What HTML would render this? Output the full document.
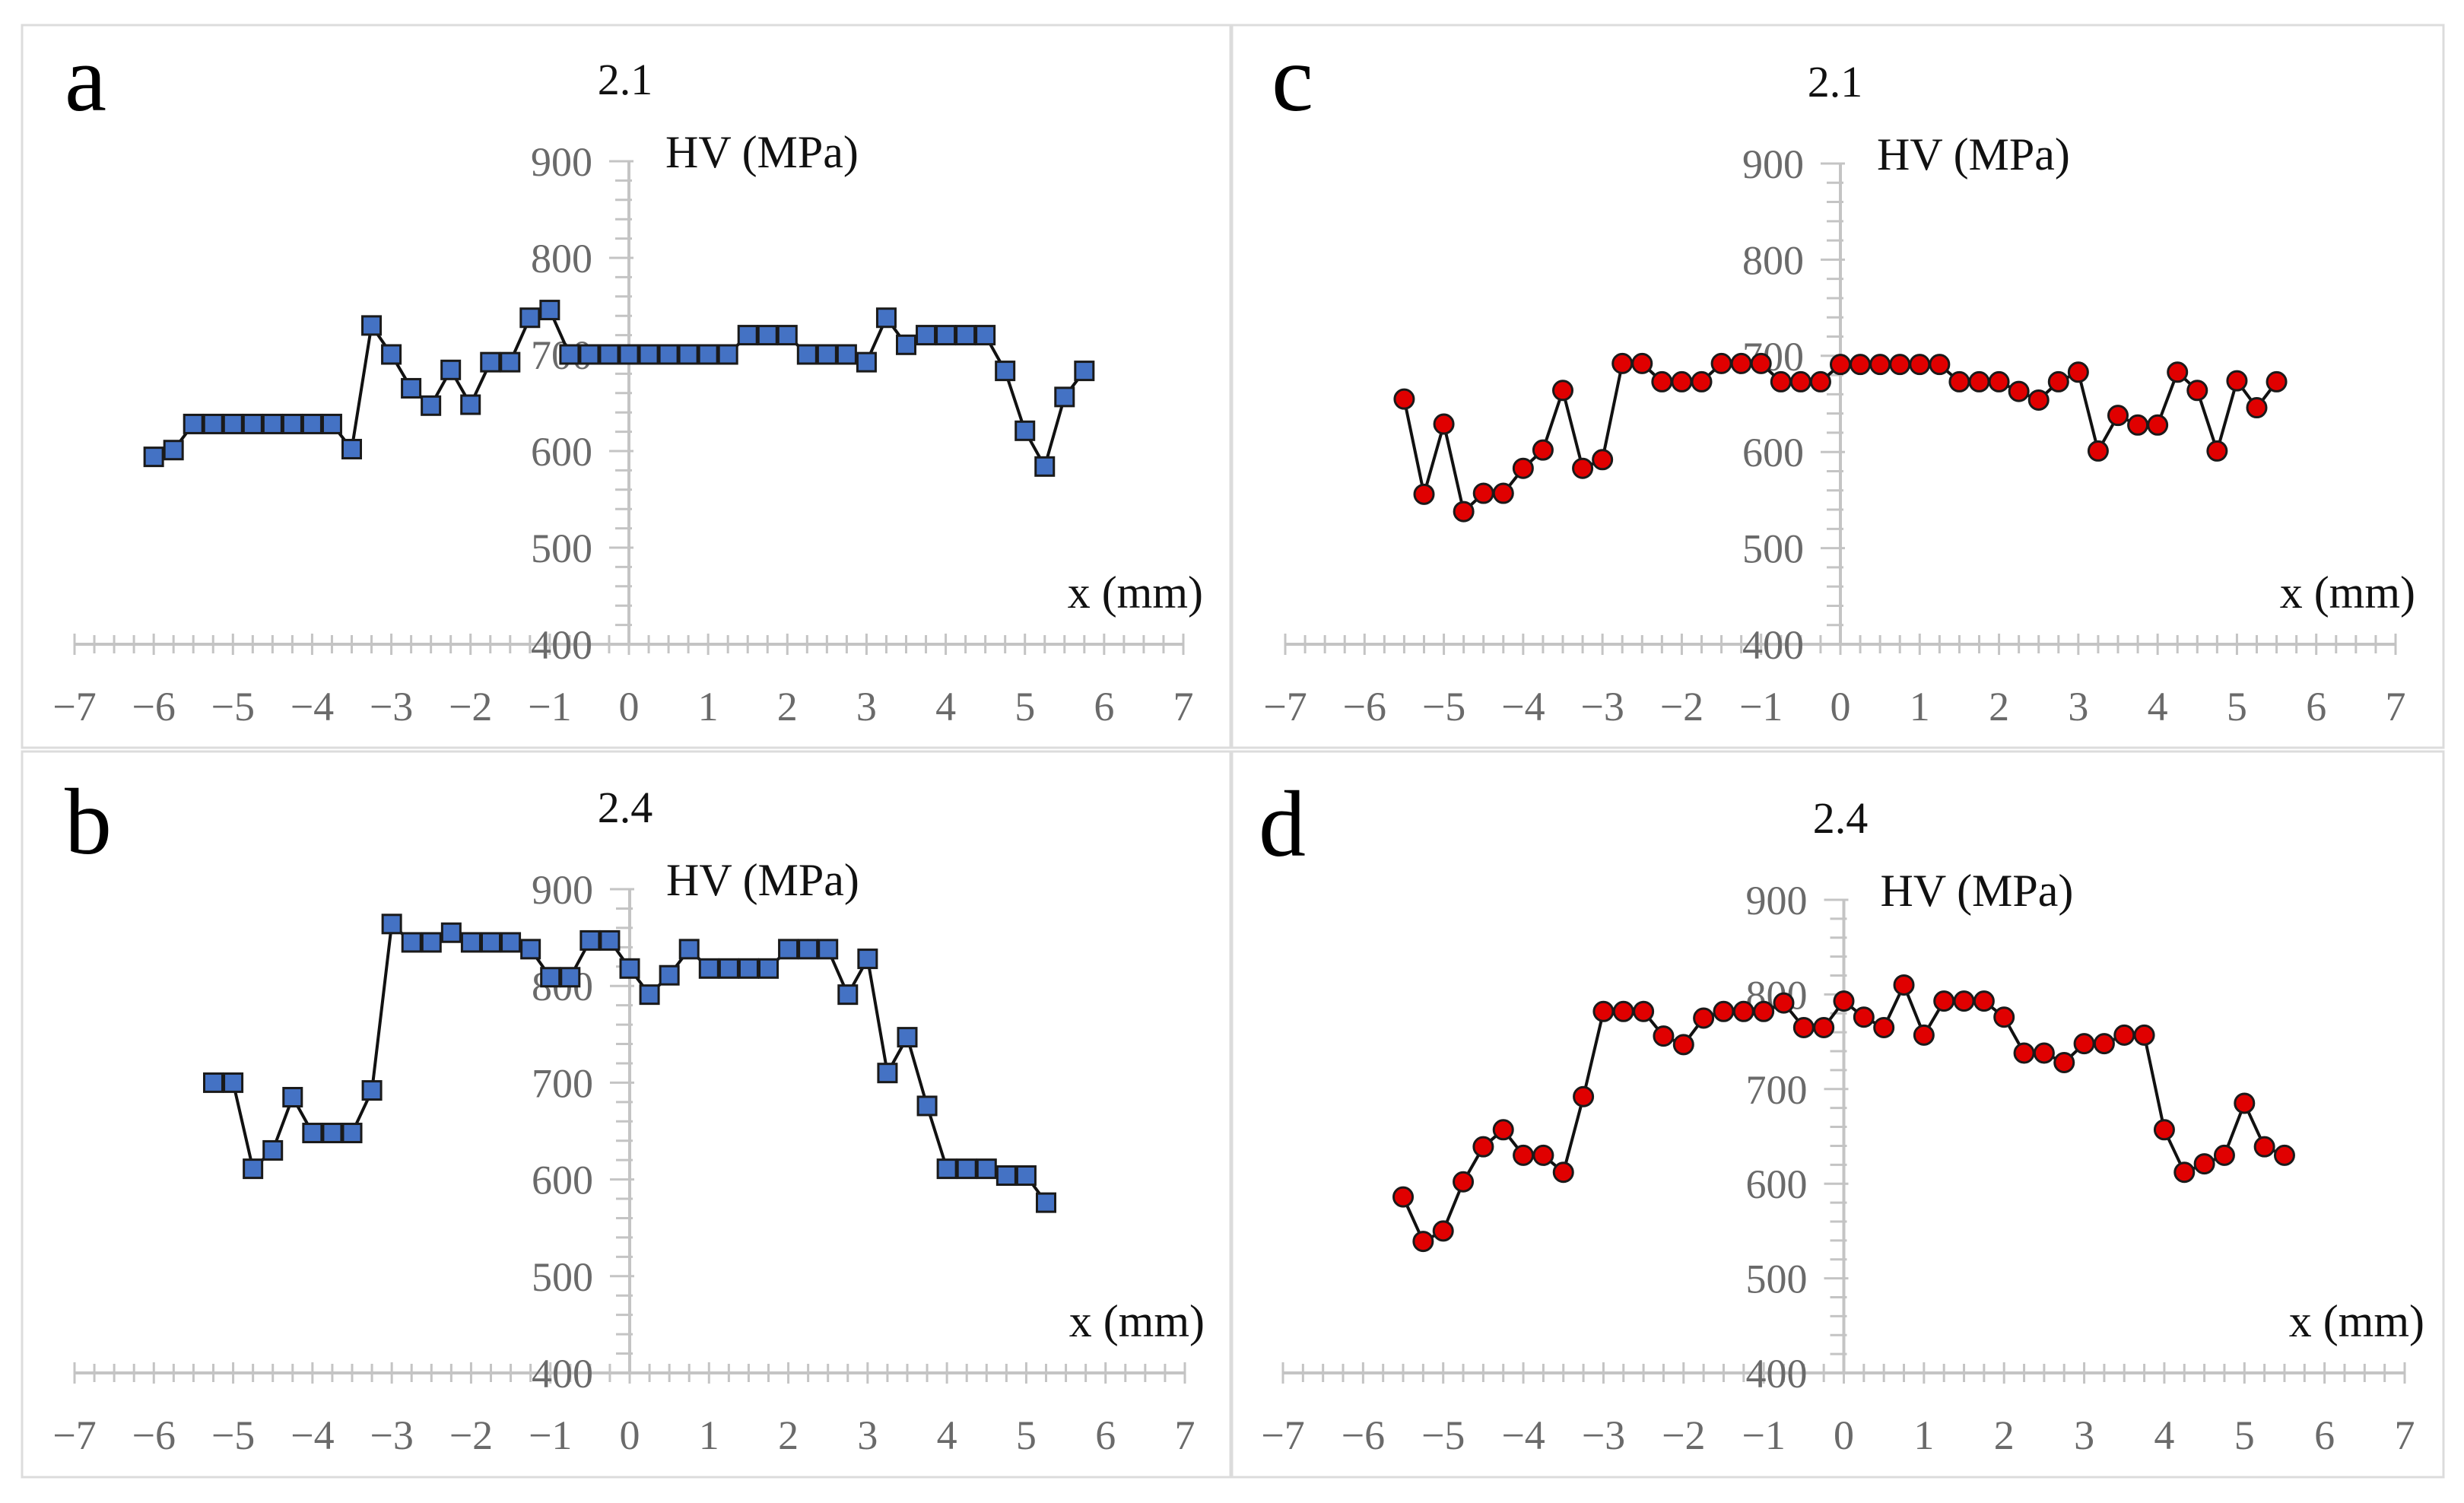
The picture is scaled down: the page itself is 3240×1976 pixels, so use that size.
<!DOCTYPE html>
<html><head><meta charset="utf-8">
<style>
html,body{margin:0;padding:0;background:#fff;}
svg{display:block;}
text{font-family:"Liberation Serif",serif;}
</style></head>
<body>
<svg id="fig" width="3240" height="1976" viewBox="0 0 3240 1976" xmlns="http://www.w3.org/2000/svg">
<rect x="0" y="0" width="3240" height="1976" fill="#fff"/>
<rect x="29" y="33" width="1589" height="950" fill="none" stroke="#dcdcdc" stroke-width="3"/>
<rect x="1620" y="33" width="1593" height="950" fill="none" stroke="#dcdcdc" stroke-width="3"/>
<rect x="29" y="988" width="1589" height="954" fill="none" stroke="#dcdcdc" stroke-width="3"/>
<rect x="1620" y="988" width="1593" height="954" fill="none" stroke="#dcdcdc" stroke-width="3"/>
</svg>
<script>
// Panel a (2.1, squares)
const xA = [-6,-5.75,-5.5,-5.25,-5,-4.75,-4.5,-4.25,-4,-3.75,-3.5,-3.25,-3,-2.75,-2.5,-2.25,-2,-1.75,-1.5,-1.25,-1,-0.75,-0.5,-0.25,0,0.25,0.5,0.75,1,1.25,1.5,1.75,2,2.25,2.5,2.75,3,3.25,3.5,3.75,4,4.25,4.5,4.75,5,5.25,5.5,5.75];
const hvA = [594,601,628,628,628,628,628,628,628,628,602,730,700,665,647,684,648,692,692,738,746,700,700,700,700,700,700,700,700,700,720,720,720,700,700,700,692,738,710,720,720,720,720,683,621,584,656,683];
// Panel b (2.4, squares)
const xB = [-5.25,-5,-4.75,-4.5,-4.25,-4,-3.75,-3.5,-3.25,-3,-2.75,-2.5,-2.25,-2,-1.75,-1.5,-1.25,-1,-0.75,-0.5,-0.25,0,0.25,0.5,0.75,1,1.25,1.5,1.75,2,2.25,2.5,2.75,3,3.25,3.5,3.75,4,4.25,4.5,4.75,5,5.25];
const hvB = [700,700,611,630,685,648,648,648,692,864,845,845,855,845,845,845,838,809,809,847,847,818,791,811,838,818,818,818,818,838,838,838,791,828,710,747,676,611,611,611,604,604,576];
// Panel c (2.1, circles)
const xC = [-5.5,-5.25,-5,-4.75,-4.5,-4.25,-4,-3.75,-3.5,-3.25,-3,-2.75,-2.5,-2.25,-2,-1.75,-1.5,-1.25,-1,-0.75,-0.5,-0.25,0,0.25,0.5,0.75,1,1.25,1.5,1.75,2,2.25,2.5,2.75,3,3.25,3.5,3.75,4,4.25,4.5,4.75,5,5.25,5.5];
const hvC = [655,556,629,538,557,557,583,602,664,583,592,692,692,673,673,673,692,692,692,673,673,673,691,691,691,691,691,691,673,673,673,663,654,673,683,601,638,628,628,683,664,601,674,646,673];
// Panel d (2.4, circles)
const xD = [-5.5,-5.25,-5,-4.75,-4.5,-4.25,-4,-3.75,-3.5,-3.25,-3,-2.75,-2.5,-2.25,-2,-1.75,-1.5,-1.25,-1,-0.75,-0.5,-0.25,0,0.25,0.5,0.75,1,1.25,1.5,1.75,2,2.25,2.5,2.75,3,3.25,3.5,3.75,4,4.25,4.5,4.75,5,5.25,5.5];
const hvD = [586,539,550,602,639,657,630,630,612,692,782,782,782,756,747,775,782,782,782,791,765,765,793,776,765,810,757,793,793,793,776,738,738,728,748,748,757,757,657,612,621,630,685,639,630];
const xTicks = [-7,-6,-5,-4,-3,-2,-1,0,1,2,3,4,5,6,7];
const yTicks = [400,500,600,700,800,900];

const NS = "http://www.w3.org/2000/svg";
const svg = document.getElementById('fig');
function mk(tag, attrs, parent){
  const e = document.createElementNS(NS, tag);
  for (const k in attrs) e.setAttribute(k, attrs[k]);
  (parent||svg).appendChild(e);
  return e;
}
const panels = [
  {id:'a', title:'2.1', xs:xA, ys:hvA, marker:'square', px0:98, px1:1556, y900:212, y400:847, letterX:85, letterY:145, titleX:822},
  {id:'c', title:'2.1', xs:xC, ys:hvC, marker:'circle', px0:1690, px1:3150, y900:215, y400:847, letterX:1672, letterY:145, titleX:2413},
  {id:'b', title:'2.4', xs:xB, ys:hvB, marker:'square', px0:98, px1:1558, y900:1169, y400:1805, letterX:85, letterY:1122, titleX:822},
  {id:'d', title:'2.4', xs:xD, ys:hvD, marker:'circle', px0:1687, px1:3162, y900:1183, y400:1805, letterX:1655, letterY:1125, titleX:2420}
];
panels.forEach(p=>{
  const sx = v => p.px0 + (v+7)/14*(p.px1-p.px0);
  const sy = v => p.y400 - (v-400)/500*(p.y400-p.y900);
  const g = mk('g', {});
  
  
  const ax0 = sx(0);
  const xl = mk('line', {x1:sx(-7), x2:sx(7), y1:p.y400, y2:p.y400, stroke:'#c4c4c4', 'stroke-width':4}, g);
  
  
  for (let v=-7; v<=7.001; v+=0.25){
    const maj = Math.abs(v-Math.round(v))<1e-6;
    mk('line', {x1:sx(v), x2:sx(v), y1:p.y400-(maj?14:12), y2:p.y400+(maj?14:12), stroke:'#c4c4c4', 'stroke-width':3}, g);
  }
  const yl = mk('line', {x1:ax0, x2:ax0, y1:p.y900, y2:p.y400, stroke:'#c4c4c4', 'stroke-width':4}, g);
  
  
  for (let v=400; v<=900; v+=20){
    const maj = v%100===0;
    mk('line', {x1:ax0-(maj?26:18), x2:ax0+(maj?6:4), y1:sy(v), y2:sy(v), stroke:'#c4c4c4', 'stroke-width':3}, g);
  }
  xTicks.forEach(t=>{
    const tx = mk('text', {x:sx(t), y:p.y400+100, 'font-size':54, fill:'#6a6a6a', 'text-anchor':'middle'}, g);
    tx.textContent = t<0 ? '\u2212'+Math.abs(t) : String(t);
    
    
  });
  yTicks.forEach(t=>{
    const ty = mk('text', {x:ax0-48, y:sy(t)+19, 'font-size':54, fill:'#6a6a6a', 'text-anchor':'end'}, g);
    ty.textContent = String(t);
    
    
  });
  const yt = mk('text', {x:ax0+48, y:p.y900+8, 'font-size':60, fill:'#111'}, g);
  yt.textContent = 'HV (MPa)';
  
  
  const xt = mk('text', {x:sx(7)+26, y:p.y400-48, 'font-size':60, fill:'#111', 'text-anchor':'end'}, g);
  xt.textContent = 'x (mm)';
  
  
  const tt = mk('text', {x:p.titleX, y:p.y900-88, 'font-size':58, fill:'#111', 'text-anchor':'middle'}, g);
  tt.textContent = p.title;
  
  
  const lt = mk('text', {x:p.letterX, y:p.letterY, 'font-size':124, fill:'#000'}, g);
  lt.textContent = p.id;
  
  
  const pts = p.xs.map((x,i)=>sx(x).toFixed(1)+','+sy(p.ys[i]).toFixed(1)).join(' ');
  const pl = mk('polyline', {points:pts, fill:'none', stroke:'#111', 'stroke-width':4}, g);
  
  
  p.xs.forEach((x,i)=>{
    let m;
    if (p.marker==='square'){
      m = mk('rect', {x:sx(x)-12, y:sy(p.ys[i])-12, width:24, height:24, fill:'#4472c4', stroke:'#1a1a1a', 'stroke-width':3}, g);
    } else {
      m = mk('circle', {cx:sx(x), cy:sy(p.ys[i]), r:12.5, fill:'#e00000', stroke:'#1a1a1a', 'stroke-width':3}, g);
    }
    
    
  });
});
</script>
</body></html>
